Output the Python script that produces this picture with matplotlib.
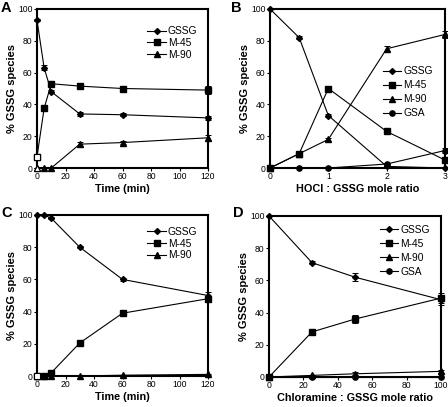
import matplotlib
matplotlib.use("Agg")
import matplotlib.pyplot as plt
from matplotlib.lines import Line2D

plt.rcParams['font.family'] = ['Liberation Sans', 'DejaVu Sans']

# ---- Panel A data ----
a_time = [0, 5, 10, 30, 60, 120]
a_gssg = [93, 63, 48, 34, 33.5, 31.5]
a_gssg_err = [0.8, 1.5, 1.0, 1.5, 0.8, 1.5]
a_m45 = [7, 37.5, 53, 51.5, 50, 49]
a_m45_err = [0.5, 1.5, 1.5, 1.5, 1.0, 2.5]
a_m90 = [0, 0, 0, 15, 16, 19]
a_m90_err = [0, 0, 0, 1.5, 1.0, 1.5]

# ---- Panel B data ----
b_ratio = [0, 0.5, 1, 2, 3]
b_gssg = [100, 82, 33, 1, 0]
b_gssg_err = [0, 0.8, 0.8, 0.5, 0]
b_m45 = [0, 9, 50, 23, 5]
b_m45_err = [0, 0.8, 0.8, 1.2, 0.8]
b_m90 = [0, 9, 18, 75, 84]
b_m90_err = [0, 0.8, 0.8, 1.5, 2.0]
b_gsa = [0, 0, 0, 2.5, 11]
b_gsa_err = [0, 0, 0, 0.5, 1.5]

# ---- Panel C data ----
c_time = [0, 5, 10, 30, 60, 120]
c_gssg = [100, 100, 98, 80, 60, 50]
c_gssg_err = [0, 0.5, 0.5, 0.8, 1.0, 2.0]
c_m45 = [0, 0, 2, 20.5, 39, 48]
c_m45_err = [0, 0, 0.5, 0.8, 0.8, 2.0]
c_m90 = [0, 0, 0, 0, 0.5, 1]
c_m90_err = [0, 0, 0, 0, 0.3, 0.3]

# ---- Panel D data ----
d_ratio = [0, 25, 50, 100]
d_gssg = [100, 71, 62, 48]
d_gssg_err = [0, 1.0, 2.5, 3.0]
d_m45 = [0, 28, 36, 49]
d_m45_err = [0, 1.0, 2.5, 3.0]
d_m90 = [0, 1, 2, 3.5]
d_m90_err = [0, 0.5, 0.8, 0.8]
d_gsa = [0, 0, 0, 0]
d_gsa_err = [0, 0, 0, 0]

styles = {
    'GSSG': dict(marker='D', ms=3.0),
    'M-45': dict(marker='s', ms=3.8),
    'M-90': dict(marker='^', ms=4.0),
    'GSA': dict(marker='o', ms=3.8),
}

fig = plt.figure(figsize=(4.48, 4.07), dpi=100)

def fx(px):
    return px / 448.0

def fy(py):
    return 1 - py / 407.0

def make_ax(l, r, t, b):
    return fig.add_axes([fx(l), fy(b), fx(r) - fx(l), fy(t) - fy(b)])

def series(ax, x, y, err, name, open_first=False):
    st = styles[name]
    ax.errorbar(x, y, yerr=err, color='black', lw=0.8, marker=st['marker'],
                ms=st['ms'], mfc='black', mec='black', capsize=2, elinewidth=0.7,
                capthick=0.7, clip_on=False, zorder=3)
    if open_first:
        ax.plot(x[:1], y[:1], linestyle='none', marker=st['marker'], ms=st['ms'],
                mfc='white', mec='black', mew=0.8, clip_on=False, zorder=4)

def style_ax(ax, xlim, xticks, xlabel):
    ax.set_xlim(*xlim)
    ax.set_ylim(0, 100)
    ax.set_xticks(xticks)
    ax.set_yticks([0, 20, 40, 60, 80, 100])
    ax.set_xticklabels([str(t) for t in xticks])
    ax.set_yticklabels(['0', '20', '40', '60', '80', '100'])
    for s in ax.spines.values():
        s.set_linewidth(1.5)
    ax.tick_params(axis='both', labelsize=6.2, length=2.0, width=0.8, pad=1.2,
                   direction='out')
    ax.set_xlabel(xlabel, fontsize=7.8, fontweight='bold', labelpad=2)
    ax.set_ylabel('% GSSG species', fontsize=8.0, fontweight='bold', labelpad=1)

def legend(ax, names, anchor, spacing):
    handles = [Line2D([0], [0], color='black', lw=0.8, marker=styles[n]['marker'],
                      ms=styles[n]['ms'], mfc='black', mec='black') for n in names]
    leg = ax.legend(handles, names, loc='upper left', bbox_to_anchor=anchor, frameon=False,
                    fontsize=7.4, handlelength=1.8, handletextpad=0.2,
                    labelspacing=spacing, borderaxespad=0, borderpad=0)
    return leg

# Panel A
axA = make_ax(37, 208, 9, 168)
series(axA, a_time, a_m90, a_m90_err, 'M-90', open_first=True)
series(axA, a_time, a_m45, a_m45_err, 'M-45', open_first=True)
series(axA, a_time, a_gssg, a_gssg_err, 'GSSG')
style_ax(axA, (0, 120), [0, 20, 40, 60, 80, 100, 120], 'Time (min)')
legend(axA, ['GSSG', 'M-45', 'M-90'], (0.645, 0.89), 0.15)

# Panel B
axB = make_ax(270, 445, 9, 168)
series(axB, b_ratio, b_gsa, b_gsa_err, 'GSA')
series(axB, b_ratio, b_m90, b_m90_err, 'M-90')
series(axB, b_ratio, b_m45, b_m45_err, 'M-45')
series(axB, b_ratio, b_gssg, b_gssg_err, 'GSSG')
style_ax(axB, (0, 3), [0, 1, 2, 3], 'HOCl : GSSG mole ratio')
legend(axB, ['GSSG', 'M-45', 'M-90', 'GSA'], (0.645, 0.64), 0.39)

# Panel C
axC = make_ax(37, 208, 215, 376)
series(axC, c_time, c_m90, c_m90_err, 'M-90', open_first=True)
series(axC, c_time, c_m45, c_m45_err, 'M-45', open_first=True)
series(axC, c_time, c_gssg, c_gssg_err, 'GSSG')
style_ax(axC, (0, 120), [0, 20, 40, 60, 80, 100, 120], 'Time (min)')
legend(axC, ['GSSG', 'M-45', 'M-90'], (0.645, 0.925), 0.15)

# Panel D
axD = make_ax(269, 441, 216, 377)
series(axD, d_ratio, d_gsa, d_gsa_err, 'GSA')
series(axD, d_ratio, d_m90, d_m90_err, 'M-90')
series(axD, d_ratio, d_m45, d_m45_err, 'M-45')
series(axD, d_ratio, d_gssg, d_gssg_err, 'GSSG')
style_ax(axD, (0, 100), [0, 20, 40, 60, 80, 100], 'Chloramine : GSSG mole ratio')
legend(axD, ['GSSG', 'M-45', 'M-90', 'GSA'], (0.645, 0.945), 0.39)

# Panel letters
for letter, px, py in [('A', 1, 1), ('B', 231, 1), ('C', 1, 206), ('D', 233, 206)]:
    fig.text(fx(px), fy(py), letter, fontsize=10.5, fontweight='bold', va='top', ha='left')

fig.savefig('out.png', dpi=100)
